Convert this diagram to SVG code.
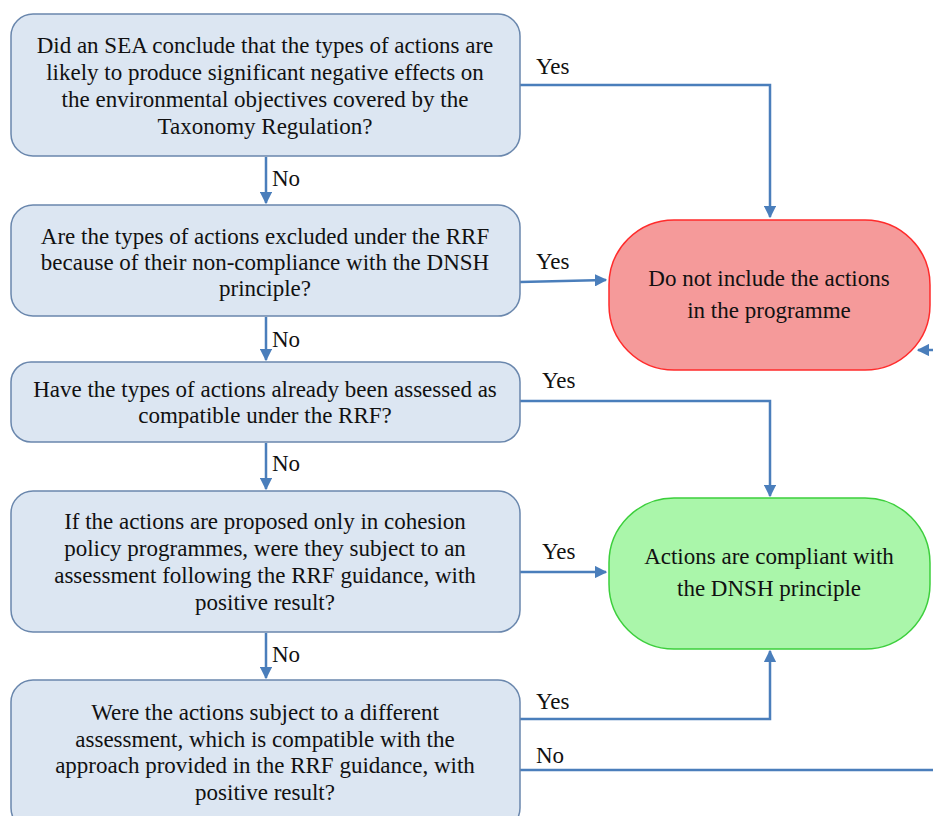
<svg xmlns="http://www.w3.org/2000/svg" width="933" height="816" viewBox="0 0 933 816">
<style>
.q{fill:#dce6f2;stroke:#6a87ad;stroke-width:1.5}
.t{font-family:"Liberation Serif","Times New Roman",serif;font-size:23px;fill:#111;text-anchor:middle}
.l{font-family:"Liberation Serif","Times New Roman",serif;font-size:23px;fill:#111}
.c{fill:none;stroke:#4a7ebb;stroke-width:2.5}
</style>
<defs>
<marker id="a" viewBox="0 0 10 10" refX="9" refY="5" markerWidth="5" markerHeight="5" orient="auto" markerUnits="strokeWidth">
<path d="M0,0 L10,5 L0,10 z" fill="#4a7ebb"/>
</marker>
</defs>
<rect width="933" height="816" fill="#fff"/>
<g id="connectors">
<path class="c" d="M520,85 H770 V217" marker-end="url(#a)"/>
<path class="c" d="M520,282 L606,280" marker-end="url(#a)"/>
<path class="c" d="M933,350 H918" marker-end="url(#a)"/>
<path class="c" d="M520,401 H770 V496" marker-end="url(#a)"/>
<path class="c" d="M520,572 H606" marker-end="url(#a)"/>
<path class="c" d="M520,719 H770 V651" marker-end="url(#a)"/>
<path class="c" d="M520,770 H933"/>
<path class="c" d="M266,157 V203" marker-end="url(#a)"/>
<path class="c" d="M266,317 V360" marker-end="url(#a)"/>
<path class="c" d="M266,443 V489" marker-end="url(#a)"/>
<path class="c" d="M266,633 V678" marker-end="url(#a)"/>
<text class="l" x="536" y="74">Yes</text>
<text class="l" x="536" y="269">Yes</text>
<text class="l" x="542" y="388">Yes</text>
<text class="l" x="542" y="559">Yes</text>
<text class="l" x="536" y="709">Yes</text>
<text class="l" x="272" y="186">No</text>
<text class="l" x="272" y="347">No</text>
<text class="l" x="272" y="471">No</text>
<text class="l" x="272" y="662">No</text>
<text class="l" x="536" y="763">No</text>
</g>
<g id="q1">
<rect class="q" x="11" y="14" width="509" height="142" rx="22"/>
<text class="t" x="265" y="53">Did an SEA conclude that the types of actions are</text>
<text class="t" x="265" y="80">likely to produce significant negative effects on</text>
<text class="t" x="265" y="107">the environmental objectives covered by the</text>
<text class="t" x="265" y="134">Taxonomy Regulation?</text>
</g>
<g id="q2">
<rect class="q" x="11" y="205" width="509" height="111" rx="22"/>
<text class="t" x="265" y="244">Are the types of actions excluded under the RRF</text>
<text class="t" x="265" y="270">because of their non-compliance with the DNSH</text>
<text class="t" x="265" y="296">principle?</text>
</g>
<g id="q3">
<rect class="q" x="11" y="362" width="509" height="80" rx="20"/>
<text class="t" x="265" y="397">Have the types of actions already been assessed as</text>
<text class="t" x="265" y="423">compatible under the RRF?</text>
</g>
<g id="q4">
<rect class="q" x="11" y="491" width="509" height="141" rx="22"/>
<text class="t" x="265" y="529">If the actions are proposed only in cohesion</text>
<text class="t" x="265" y="556">policy programmes, were they subject to an</text>
<text class="t" x="265" y="583">assessment following the RRF guidance, with</text>
<text class="t" x="265" y="610">positive result?</text>
</g>
<g id="q5">
<rect class="q" x="11" y="680" width="509" height="150" rx="22"/>
<text class="t" x="265" y="720">Were the actions subject to a different</text>
<text class="t" x="265" y="747">assessment, which is compatible with the</text>
<text class="t" x="265" y="773">approach provided in the RRF guidance, with</text>
<text class="t" x="265" y="800">positive result?</text>
</g>
<g id="exclude">
<rect x="609" y="220" width="321" height="150" rx="65" fill="#f59a9a" stroke="#ff2b2b" stroke-width="1.5"/>
<text class="t" x="769" y="286">Do not include the actions</text>
<text class="t" x="769" y="318">in the programme</text>
</g>
<g id="compliant">
<rect x="609" y="498" width="321" height="151" rx="65" fill="#aaf6aa" stroke="#3ccf3c" stroke-width="1.5"/>
<text class="t" x="769" y="564">Actions are compliant with</text>
<text class="t" x="769" y="596">the DNSH principle</text>
</g>
</svg>
